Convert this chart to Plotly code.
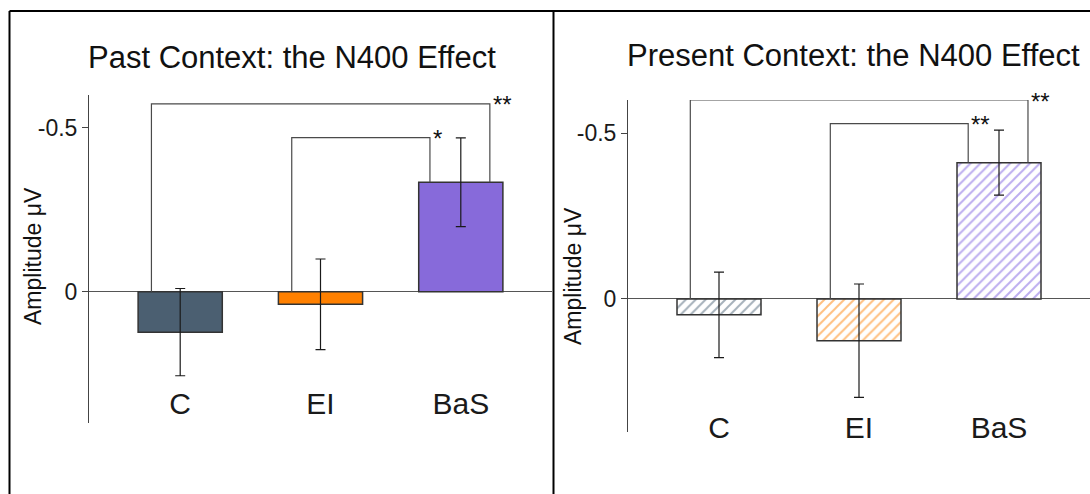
import plotly.graph_objects as go

categories = ["C", "EI", "BaS"]
past_values = [0.123, 0.038, -0.334]
past_errors = [0.133, 0.138, 0.135]
present_values = [0.048, 0.126, -0.411]
present_errors = [0.129, 0.171, 0.098]
bar_colors = ["#4b5f71", "#ff8000", "#876ada"]
hatch_colors = ["#4b6275", "#ff7f00", "#7a5ce0"]
y_ticks = [-0.5, 0]
y_ticktext = ["-0.5", "0"]

# significance brackets: (from idx, to idx, height, label)
past_brackets = [(0, 2, -0.573, "**"), (1, 2, -0.470, "*")]
present_brackets = [(0, 2, -0.600, "**"), (1, 2, -0.529, "**")]

FONT = "Liberation Sans, Arial, sans-serif"
W, H = 1090, 494
xpos = list(range(len(categories)))

fig = go.Figure()

def add_panel(values, errors, xa, ya, hatched, brackets):
    marker = dict(color="white" if hatched else bar_colors,
                  line=dict(color="#333333", width=1.5))
    if hatched:
        marker["pattern"] = dict(shape="/", fgcolor=hatch_colors, bgcolor="white",
                                 size=7, solidity=0.28, fillmode="overlay")
    fig.add_trace(go.Bar(
        x=xpos, y=values, width=0.6, marker=marker, xaxis=xa, yaxis=ya,
        error_y=dict(type="data", array=errors, color="#1a1a1a", thickness=1.2, width=5),
        showlegend=False))
    for (i, j, h, lab) in brackets:
        xl = xpos[i] - 0.205
        xr = xpos[j] + (0.207 if i == 0 else -0.22)
        fig.add_trace(go.Scatter(
            x=[xl, xl, xr, xr], y=[min(values[i], 0), h, h, min(values[j], 0)],
            mode="lines", line=dict(color="#4a4a4a", width=1.2),
            xaxis=xa, yaxis=ya, showlegend=False, hoverinfo="skip"))
        fig.add_annotation(x=xr, y=h, xref=xa, yref=ya, text=lab, showarrow=False,
                           xanchor="left", yanchor="middle", xshift=1, yshift=-1,
                           font=dict(family=FONT, size=24, color="#111"))

add_panel(past_values, past_errors, "x", "y", False, past_brackets)
add_panel(present_values, present_errors, "x2", "y2", True, present_brackets)

xcommon = dict(range=[-0.65, 2.65], tickvals=xpos, ticktext=categories, showline=False,
               showgrid=False, zeroline=False, ticks="", anchor="free",
               tickfont=dict(family=FONT, size=30, color="#1a1a1a"))
ycommon = dict(range=[0.4, -0.6], tickvals=y_ticks, ticktext=y_ticktext, showgrid=False,
               showline=True, linecolor="#444", linewidth=1, ticks="outside", ticklen=6,
               tickcolor="#444", zeroline=True, zerolinecolor="#555", zerolinewidth=1,
               tickfont=dict(family=FONT, size=23, color="#1a1a1a"))

fig.update_layout(
    width=W, height=H, margin=dict(l=0, r=0, t=0, b=0),
    paper_bgcolor="white", plot_bgcolor="white", bargap=0.4,
    xaxis=dict(domain=[89 / W, 552 / W], position=1 - 383 / H, **xcommon),
    xaxis2=dict(domain=[628 / W, 1.0], position=1 - 407 / H, **xcommon),
    yaxis=dict(domain=[1 - 423 / H, 1 - 95 / H], anchor="x", **ycommon),
    yaxis2=dict(domain=[1 - 431.5 / H, 1 - 100 / H], anchor="x2", **ycommon),
)

# panel titles and axis titles
fig.add_annotation(x=292 / W, y=1 - 57 / H, xref="paper", yref="paper",
                   xanchor="center", yanchor="middle",
                   text="Past Context: the N400 Effect", showarrow=False,
                   font=dict(family=FONT, size=31, color="#111"))
fig.add_annotation(x=853 / W, y=1 - 55 / H, xref="paper", yref="paper",
                   xanchor="center", yanchor="middle",
                   text="Present Context: the N400 Effect", showarrow=False,
                   font=dict(family=FONT, size=31, color="#111"))
fig.add_annotation(x=33 / W, y=1 - 256 / H, xref="paper", yref="paper",
                   xanchor="center", yanchor="middle",
                   text="Amplitude μV", textangle=-90, showarrow=False,
                   font=dict(family=FONT, size=23, color="#111"))
fig.add_annotation(x=573 / W, y=1 - 276 / H, xref="paper", yref="paper",
                   xanchor="center", yanchor="middle",
                   text="Amplitude μV", textangle=-90, showarrow=False,
                   font=dict(family=FONT, size=23, color="#111"))

# panel frames
frame = dict(color="black", width=2)
fig.add_shape(type="line", xref="paper", yref="paper", x0=9.5 / W, x1=1, y0=1 - 11 / H, y1=1 - 11 / H, line=frame)
fig.add_shape(type="line", xref="paper", yref="paper", x0=9.5 / W, x1=9.5 / W, y0=0, y1=1 - 11 / H, line=frame)
fig.add_shape(type="line", xref="paper", yref="paper", x0=553.5 / W, x1=553.5 / W, y0=0, y1=1 - 11 / H, line=frame)

fig.write_html("out.html")
